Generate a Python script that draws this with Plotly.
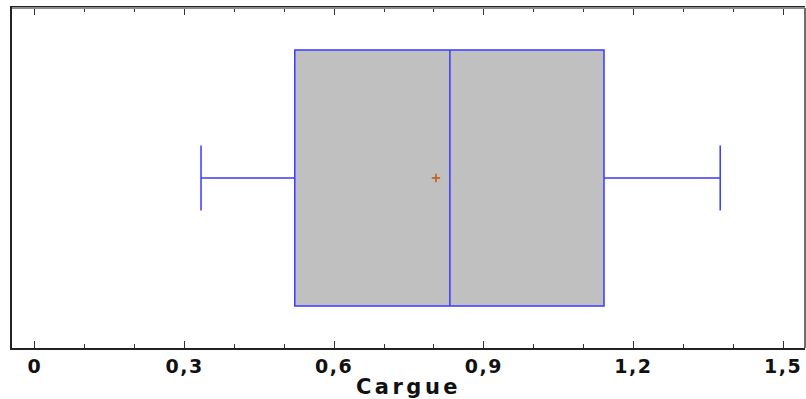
import plotly.graph_objects as go

# Summary statistics for "Cargue"
q1 = [0.521]
median = [0.832]
q3 = [1.141]
lower_fence = [0.333]
upper_fence = [1.374]
mean_value = [0.804]

tick_values = [0, 0.3, 0.6, 0.9, 1.2, 1.5]
tick_labels = ["0", "0,3", "0,6", "0,9", "1,2", "1,5"]
axis_title = "Cargue"


def spaced(text, px):
    return f'<span style="letter-spacing:{px}px">{text}</span>'


fig = go.Figure()

fig.add_trace(go.Box(
    y=[0], q1=q1, median=median, q3=q3,
    lowerfence=lower_fence, upperfence=upper_fence,
    orientation="h", width=0.753, whiskerwidth=0.254,
    fillcolor="#C0C0C0", line=dict(color="#3A3AFF", width=1.5),
    boxpoints=False, hoverinfo="skip", showlegend=False,
))

fig.add_trace(go.Scatter(
    x=mean_value, y=[0], mode="markers",
    marker=dict(symbol="cross-thin", size=6, line=dict(color="#C05A10", width=1.5)),
    showlegend=False, hoverinfo="skip",
))

fig.update_layout(
    width=806, height=399,
    margin=dict(l=12, r=1, t=8, b=51),
    paper_bgcolor="white", plot_bgcolor="white",
    separators=",.",
    xaxis=dict(
        range=[-0.046, 1.544], tickvals=tick_values,
        ticktext=[spaced(t, 1.5) for t in tick_labels],
        ticks="inside", ticklen=7, tickcolor="#333", tickwidth=1.3,
        minor=dict(dtick=0.1, ticks="inside", ticklen=4, tickcolor="#333", tickwidth=1),
        showline=True, linecolor="#222", linewidth=2, mirror="ticks",
        showgrid=False, zeroline=False,
        tickfont=dict(family="DejaVu Sans", size=19, color="#111", weight=900),
        title=dict(text=spaced(axis_title, 3.5),
                   font=dict(family="DejaVu Sans", size=21, color="#111", weight=900),
                   standoff=6),
    ),
    yaxis=dict(
        range=[-0.5, 0.5], showticklabels=False, ticks="",
        showline=True, linecolor="#222", linewidth=2,
        showgrid=False, zeroline=False,
    ),
    shapes=[
        dict(type="line", xref="paper", yref="paper", x0=0, x1=1, y0=1, y1=1,
             line=dict(color="#8C8C8C", width=2)),
        dict(type="line", xref="paper", yref="paper", x0=1, x1=1, y0=0, y1=1,
             line=dict(color="#6E6E6E", width=2)),
    ],
)

fig.write_html("out.html")
